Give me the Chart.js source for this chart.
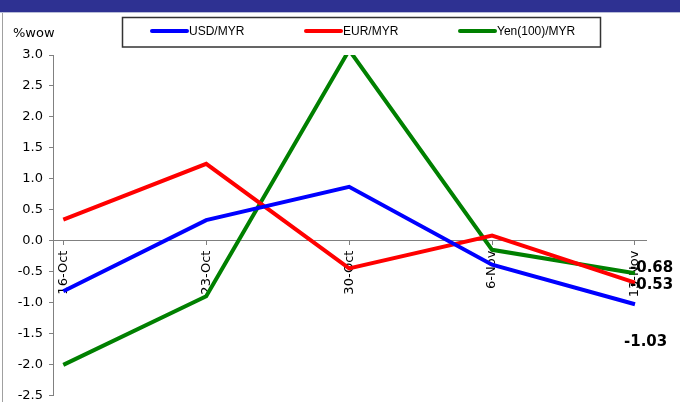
<!DOCTYPE html>
<html>
<head>
<meta charset="utf-8">
<script src="https://cdn.jsdelivr.net/npm/chart.js@4"></script>
<style>
  html, body { margin: 0; padding: 0; background: #fff; }
  #wrap { position: relative; width: 680px; height: 402px; overflow: hidden; }
  #header { position: absolute; left: 0; top: 0; width: 680px; height: 12px; background: #2E3192; border-bottom: 1px solid #b8bcd8; }
  #frame { position: absolute; left: 2px; top: 13px; width: 1px; bottom: 0; background: #a0a0a0; }
  canvas { position: absolute; left: 0; top: 0; }
</style>
</head>
<body>
<div id="wrap">
  <canvas id="fx-chart" width="680" height="409"></canvas>
  <div id="header"></div>
  <div id="frame"></div>
</div>
<script>
// ===== week-on-week change of ringgit pairs =====
const weeks = ['16-Oct', '23-Oct', '30-Oct', '6-Nov', '13-Nov'];
const usdMyr = [-0.82, 0.33, 0.87, -0.39, -1.03];
const eurMyr = [0.34, 1.24, -0.45, 0.08, -0.68];
const yenMyr = [-2.01, -0.90, 3.08, -0.15, -0.53];
const seriesNames = ['USD/MYR', 'EUR/MYR', 'Yen(100)/MYR'];
const yMin = -2.5, yMax = 3.0, yStep = 0.5;
const yUnit = '%wow';

const toPoints = arr => arr.map((v, i) => ({ x: i, y: v }));

// legend box + unit text
const legendBox = {
  id: 'legendBox',
  afterDraw(chart) {
    const ctx = chart.ctx;
    ctx.save();
    ctx.fillStyle = '#000';
    ctx.font = '13px "DejaVu Sans"';
    ctx.textAlign = 'left';
    ctx.textBaseline = 'alphabetic';
    ctx.fillText(yUnit, 13, 37);

    ctx.strokeStyle = '#333';
    ctx.lineWidth = 1.5;
    ctx.strokeRect(122.5, 17.5, 478, 29.5);
    ctx.font = '12px "Liberation Sans"';
    ctx.textBaseline = 'middle';
    chart.data.datasets.forEach((ds, i) => {
      const x0 = 152 + i * 154;
      ctx.strokeStyle = ds.borderColor;
      ctx.lineWidth = 4;
      ctx.lineCap = 'round';
      ctx.beginPath(); ctx.moveTo(x0, 31); ctx.lineTo(x0 + 35, 31); ctx.stroke();
      ctx.fillStyle = '#000';
      ctx.fillText(ds.label, x0 + 37, 31.5);
    });
    ctx.restore();
  }
};

// bold value next to last point
const endLabels = {
  id: 'endLabels',
  afterDatasetsDraw(chart) {
    const ctx = chart.ctx;
    ctx.save();
    ctx.font = 'bold 15px "DejaVu Sans"';
    ctx.fillStyle = '#000';
    ctx.textAlign = 'left';
    ctx.textBaseline = 'middle';
    chart.data.datasets.forEach((ds, i) => {
      const meta = chart.getDatasetMeta(i);
      const last = meta.data.length - 1;
      const p = meta.data[last];
      const off = ds.endLabel;
      ctx.fillText(ds.data[last].y.toFixed(2), p.x + off.dx, p.y + off.dy);
    });
    ctx.restore();
  }
};

Chart.defaults.font.family = '"DejaVu Sans"';
Chart.defaults.font.size = 13;
Chart.defaults.color = '#000';

new Chart(document.getElementById('fx-chart'), {
  type: 'line',
  data: {
    datasets: [
      { label: seriesNames[0], data: toPoints(usdMyr), borderColor: '#0000FF', endLabel: { dx: -11, dy: 38 } },
      { label: seriesNames[1], data: toPoints(eurMyr), borderColor: '#FF0000', endLabel: { dx: -5, dy: -15 } },
      { label: seriesNames[2], data: toPoints(yenMyr), borderColor: '#008000', endLabel: { dx: -5, dy: 12 } }
    ]
  },
  options: {
    responsive: false,
    animation: false,
    devicePixelRatio: 1,
    layout: { padding: { left: 0, top: 55, right: 34, bottom: 0 } },
    elements: {
      point: { radius: 0 },
      line: { borderWidth: 4, tension: 0, fill: false }
    },
    datasets: { line: { clip: 0 } },
    plugins: { legend: { display: false }, tooltip: { enabled: false } },
    scales: {
      x: {
        type: 'linear',
        position: { y: 0 },
        bounds: 'data',
        min: -0.072, max: 4.077,
        afterBuildTicks: s => { s.ticks = weeks.map((_, i) => ({ value: i })); },
        ticks: { autoSkip: false, minRotation: 90, maxRotation: 90, padding: 6, callback: v => weeks[v] },
        grid: { drawOnChartArea: false, tickLength: 4, color: '#808080' },
        border: { color: '#808080' }
      },
      y: {
        min: yMin, max: yMax,
        afterFit: s => { s.width = 53; },
        ticks: { stepSize: yStep, padding: 6, callback: v => v.toFixed(1) },
        grid: { drawOnChartArea: false, tickLength: 4, color: '#808080' },
        border: { color: '#808080' }
      }
    }
  },
  plugins: [legendBox, endLabels]
});
</script>
</body>
</html>
